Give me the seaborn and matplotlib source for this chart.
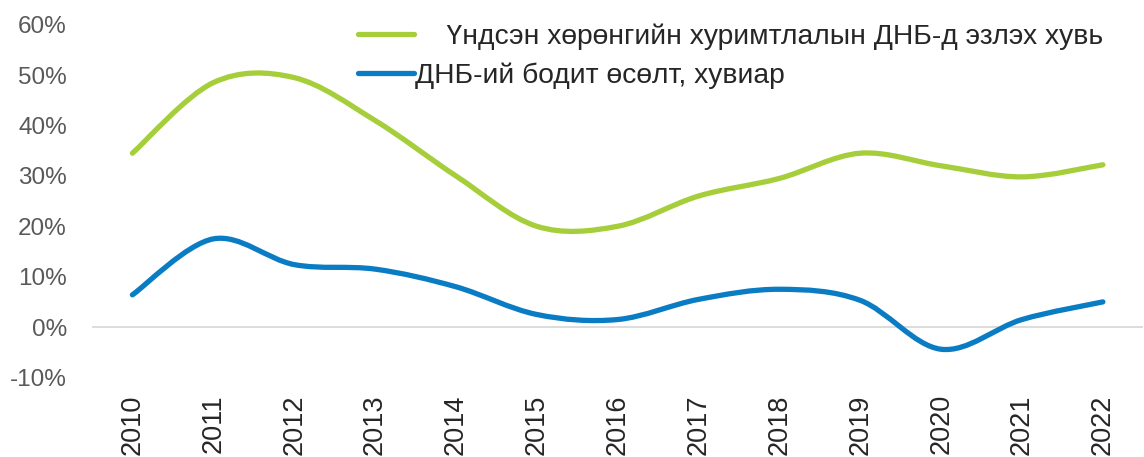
import matplotlib
matplotlib.use("Agg")
import matplotlib.pyplot as plt
import seaborn as sns
import numpy as np
from matplotlib.path import Path
from matplotlib.patches import PathPatch
from matplotlib.lines import Line2D
from matplotlib.ticker import PercentFormatter

years = ["2010", "2011", "2012", "2013", "2014", "2015", "2016",
         "2017", "2018", "2019", "2020", "2021", "2022"]
investment_share = [34.5, 48.5, 49.5, 41.0, 30.0, 20.0, 20.0,
                    26.0, 29.5, 34.5, 32.0, 29.8, 32.2]
gdp_growth = [6.4, 17.5, 12.4, 11.5, 8.0, 2.5, 1.5,
              5.5, 7.5, 5.3, -4.4, 1.5, 5.0]
series_labels = ["    Үндсэн хөрөнгийн хуримтлалын ДНБ-д эзлэх хувь",
                 "ДНБ-ий бодит өсөлт, хувиар"]

GREEN = "#A5CE3A"
BLUE = "#0A7CC4"

sns.set_theme(style="white")
plt.rcParams["font.family"] = ["Liberation Sans", "DejaVu Sans"]
plt.rcParams["axes.unicode_minus"] = False


def smooth_path(xs, ys):
    # Excel-style smoothed line: cubic Bezier segments, Catmull-Rom control points
    pts = np.column_stack([xs, ys]).astype(float)
    n = len(pts)
    verts = [pts[0]]
    codes = [Path.MOVETO]
    for i in range(n - 1):
        p0 = pts[max(i - 1, 0)]
        p1 = pts[i]
        p2 = pts[i + 1]
        p3 = pts[min(i + 2, n - 1)]
        verts += [p1 + (p2 - p0) / 6, p2 - (p3 - p1) / 6, p2]
        codes += [Path.CURVE4] * 3
    return Path(verts, codes)


fig = plt.figure(figsize=(11.44, 4.57), dpi=100)
ax = fig.add_axes([0.0804, 0.174, 0.919, 0.772])

x = np.arange(len(years))
for vals, color in [(investment_share, GREEN), (gdp_growth, BLUE)]:
    patch = PathPatch(smooth_path(x, vals), fill=False, edgecolor=color,
                      linewidth=3.8, capstyle="round", joinstyle="round")
    ax.add_patch(patch)

ax.axhline(0, color="#D9D9D9", linewidth=1.3, zorder=0)
ax.set_xlim(-0.5, len(years) - 0.5)
ax.set_ylim(-10, 60)
ax.set_yticks(np.arange(-10, 61, 10))
ax.yaxis.set_major_formatter(PercentFormatter(decimals=0))
ax.set_xticks(x)
ax.set_xticklabels(years, rotation=90)
ax.tick_params(axis="y", length=0, pad=18, labelsize=17.5, labelcolor="#595959")
ax.tick_params(axis="x", length=0, pad=12, labelsize=19.5, labelcolor="#262626")
sns.despine(ax=ax, left=True, bottom=True)

handles = [Line2D([], [], color=GREEN, linewidth=3.8, solid_capstyle="round"),
           Line2D([], [], color=BLUE, linewidth=3.8, solid_capstyle="round")]
fig.legend(handles, series_labels, loc="upper left",
           bbox_to_anchor=(358 / 1144, 1 - 23 / 457), frameon=False,
           fontsize=20.3, handlelength=1.97, handletextpad=0.05,
           labelspacing=0.45, borderpad=0, borderaxespad=0,
           labelcolor="#262626")

fig.savefig("out.png", dpi=100)
